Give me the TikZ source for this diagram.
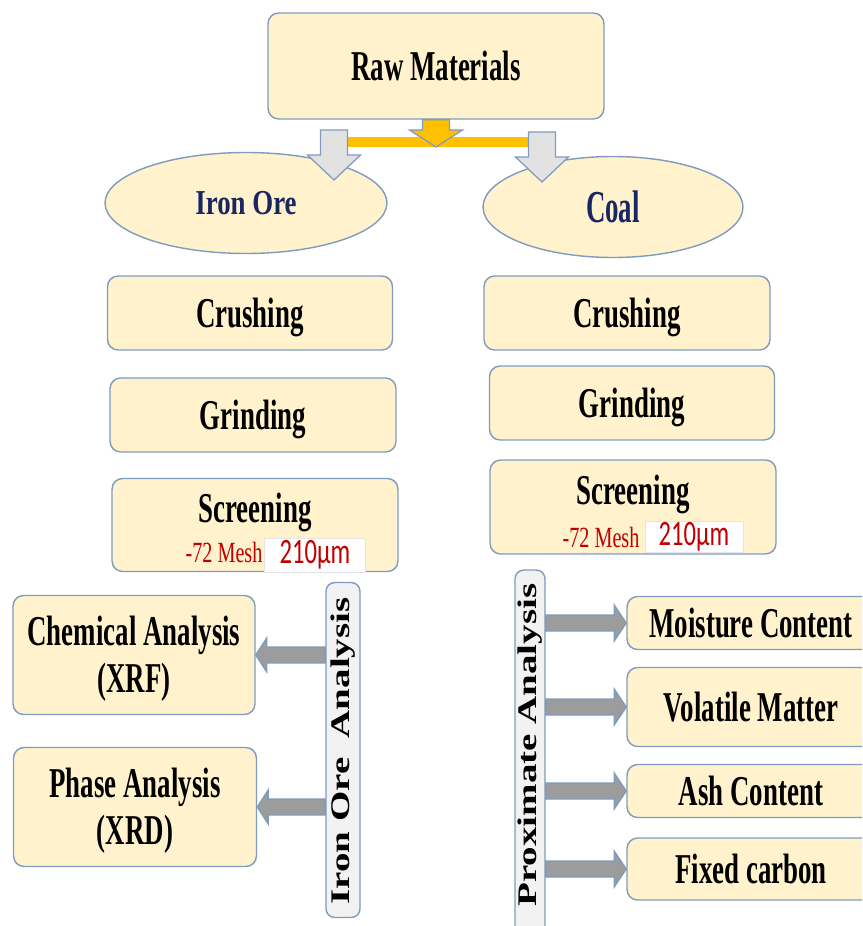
\documentclass[tikz,border=0pt]{standalone}
\usepackage{fontspec, graphicx}
\setmainfont{Liberation Serif}
\newfontfamily\calibfont{Carlito}
\usetikzlibrary{calc, shapes.geometric}

\definecolor{boxfill}{HTML}{FFF2CC}
\definecolor{boxline}{HTML}{7F9BBE}
\definecolor{navy}{HTML}{1A2660}
\definecolor{meshred}{HTML}{C00000}
\definecolor{forkorange}{HTML}{FFC000}
\definecolor{lightgrey}{HTML}{E2E2E2}
\definecolor{darkgrey}{HTML}{9C9C9C}
\definecolor{barfill}{HTML}{F2F2F2}

% tall bold text, centred on its capitals
\newcommand{\capt}[2][1.58]{\raisebox{0pt}[#1\dimexpr 10.1pt\relax][0pt]{\scalebox{1}[#1]{#2}}}
\newcommand{\tallt}[1]{\scalebox{1}[1.45]{#1}}
\newcommand{\longt}[1]{\scalebox{1.45}[1]{#1}}
% block arrow: style, from, to, half stem, half head, head length
\newcommand{\blockarrow}[6]{%
  \coordinate (ba-h) at ($(#3)!#6!(#2)$);
  \draw [#1] ($(#2)!#4!90:(#3)$) -- ($(ba-h)!#4!-90:(#2)$) -- ($(ba-h)!#5!-90:(#2)$) -- (#3)
    -- ($(ba-h)!#5!90:(#2)$) -- ($(ba-h)!#4!90:(#2)$) -- ($(#2)!#4!-90:(#3)$) -- cycle;
}

\tikzset{
  stage/.style={draw=boxline, fill=boxfill, line width=0.8pt, rounded corners=6pt,
    inner sep=0pt, align=center, font=\bfseries\fontsize{15.3}{27}\selectfont},
  source/.style={ellipse, draw=boxline, fill=boxfill, line width=0.8pt, inner sep=0pt,
    text=navy, font=\bfseries\fontsize{15.3}{18}\selectfont},
  sidebar/.style={draw=boxline, fill=barfill, line width=0.8pt, rounded corners=5pt, inner sep=0pt},
  sidetext/.style={inner sep=0pt, font=\bfseries\fontsize{15.3}{18}\selectfont},
  meshnote/.style={inner sep=0pt, text=meshred, font=\fontsize{11.5}{14}\selectfont},
  sizenote/.style={draw=black!10, fill=white, line width=0.5pt, inner sep=0pt,
    text=meshred, font=\calibfont\fontsize{14}{16}\selectfont},
  forkbar/.style={forkorange, line width=0.22cm},
  orangeblock/.style={draw=boxline, fill=forkorange, line width=0.7pt},
  lightblock/.style={draw=boxline, fill=lightgrey, line width=0.7pt},
  darkblock/.style={draw=boxline, fill=darkgrey, line width=0.7pt}
}

\begin{document}
\begin{tikzpicture}[x=0.02cm, y=-0.02cm]
    \useasboundingbox (0,0) rectangle (862,926);
    \clip (0,0) rectangle (862,926);

    \node [stage, minimum width=6.72cm, minimum height=2.12cm] (raw) at (436,66) {\capt{Raw Materials}};
    \node [source, minimum width=5.64cm, minimum height=2.02cm] (iron) at (246,203) {\capt[1.3]{Iron Ore}};
    \node [source, minimum width=5.2cm, minimum height=2.02cm] (coal) at (613,207) {\capt[1.7]{Coal}};

    % split of the raw materials
    \coordinate (fork) at (436,147);
    \coordinate (forkL) at (334,142);
    \coordinate (forkR) at (542,142);
    \coordinate (ironfrom) at (334,130);
    \coordinate (ironto) at (334,180);
    \coordinate (coalfrom) at (542,132);
    \coordinate (coalto) at (542,182);
    \draw [forkbar] (forkL) -- (forkR);
    \blockarrow{lightblock}{ironfrom}{ironto}{0.27cm}{0.53cm}{0.5cm}
    \blockarrow{lightblock}{coalfrom}{coalto}{0.27cm}{0.53cm}{0.5cm}
    \blockarrow{orangeblock}{raw.south}{fork}{0.27cm}{0.53cm}{0.34cm}

    % iron ore preparation
    \node [stage, minimum width=5.7cm, minimum height=1.48cm] (crushL) at (250,313) {\capt{Crushing}};
    \node [stage, minimum width=5.72cm, minimum height=1.48cm] (grindL) at (253,415) {\capt{Grinding}};
    \node [stage, minimum width=5.72cm, minimum height=1.86cm] (screenL) at (255,525) {};
    \node [sidetext] (screenLt) at (255,508) {\capt{Screening}};
    \node [meshnote] (meshL) at (224,552) {\tallt{-72 Mesh}};
    \node [sizenote, minimum width=2.02cm, minimum height=0.68cm] (sizeL) at (315,555) {\tallt{210µm}};

    % coal preparation
    \node [stage, minimum width=5.72cm, minimum height=1.48cm] (crushR) at (627,313) {\capt{Crushing}};
    \node [stage, minimum width=5.7cm, minimum height=1.48cm] (grindR) at (632,403) {\capt{Grinding}};
    \node [stage, minimum width=5.72cm, minimum height=1.88cm] (screenR) at (633,507) {};
    \node [sidetext] (screenRt) at (633,490) {\capt{Screening}};
    \node [meshnote] (meshR) at (601,537) {\tallt{-72 Mesh}};
    \node [sizenote, minimum width=1.96cm, minimum height=0.62cm] (sizeR) at (694,537) {\tallt{210µm}};

    % iron ore analysis
    \node [sidebar, minimum width=0.68cm, minimum height=6.7cm] (ironbar) at (343,750) {};
    \node [sidetext] (ironbart) at (343,751) {\rotatebox{90}{\longt{Iron Ore\ \ Analysis}}};
    \node [stage, minimum width=4.84cm, minimum height=2.38cm] (chem) at (134,655) {\capt{Chemical Analysis}\\\capt{(XRF)}};
    \node [stage, minimum width=4.86cm, minimum height=2.38cm] (phase) at (135,807) {\capt{Phase Analysis}\\\capt{(XRD)}};
    \coordinate (chemfrom) at (ironbar.west |- chem);
    \coordinate (phasefrom) at (ironbar.west |- phase);
    \blockarrow{darkblock}{chemfrom}{chem.east}{0.16cm}{0.34cm}{0.22cm}
    \blockarrow{darkblock}{phasefrom}{phase.east}{0.16cm}{0.34cm}{0.22cm}

    % proximate analysis of coal
    \node [sidebar, minimum width=0.6cm, minimum height=7.4cm] (proxbar) at (530,755) {};
    \node [sidetext] (proxbart) at (530,745) {\rotatebox{90}{\longt{Proximate Analysis}}};
    \node [stage, minimum width=4.96cm, minimum height=1.06cm] (moist) at (751,623) {\capt{Moisture Content}};
    \node [stage, minimum width=4.96cm, minimum height=1.58cm] (volat) at (751,707) {\capt{Volatile Matter}};
    \node [stage, minimum width=4.96cm, minimum height=1.06cm] (ash) at (751,791) {\capt{Ash Content}};
    \node [stage, minimum width=4.96cm, minimum height=1.24cm] (fixed) at (751,869) {\capt{Fixed carbon}};
    \foreach \test in {moist, volat, ash, fixed} {
        \coordinate (\test from) at (proxbar.east |- \test);
        \blockarrow{darkblock}{\test from}{\test.west}{0.16cm}{0.36cm}{0.24cm}
    }
\end{tikzpicture}
\end{document}
